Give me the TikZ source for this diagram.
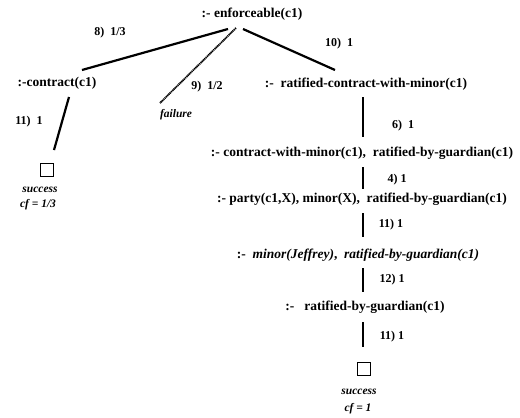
\documentclass[tikz,border=0pt]{standalone}
\usepackage{fontspec}
\setmainfont{Liberation Serif}
\begin{document}
\begin{tikzpicture}[x=1pt,y=-1pt,
	goal/.style={font=\bfseries\fontsize{13.5}{15}\selectfont},
	lbl/.style={font=\bfseries\fontsize{12}{14}\selectfont},
	res/.style={font=\bfseries\itshape\fontsize{11.5}{13}\selectfont},
	edge/.style={line width=2.2pt},
	fail/.style={line width=1.8pt,dash pattern=on 1.2pt off 0.6pt},
	box/.style={draw,line width=1.6pt,minimum size=13pt,inner sep=0pt}]
	\useasboundingbox (0,0) rectangle (520,418);
	\node[goal] (root) at (252,14) {:-\ enforceable(c1)};
	\node[goal] (contract) at (57,83) {:-contract(c1)};
	\node[goal] (ratmin) at (366,84) {:-\ \ ratified-contract-with-minor(c1)};
	\node[res] (failure) at (176,115) {failure};
	\node[goal] (cwm) at (362,153) {:-\ contract-with-minor(c1),\ \ ratified-by-guardian(c1)};
	\node[goal] (party) at (362,199) {:-\ party(c1,X),\ minor(X),\ \ ratified-by-guardian(c1)};
	\node[goal] (jeff) at (358,255) {:-\ \ \textit{minor(Jeffrey)},\ \ \textit{ratified-by-guardian(c1)}};
	\node[goal] (rbg) at (365,307) {:-\ \ \ ratified-by-guardian(c1)};
	\node[box] (okleft) at (47,170) {};
	\node[res] (sleft) at (40,190) {success};
	\node[res] (cfleft) at (38,205) {cf = 1/3};
	\node[box] (okright) at (364,369) {};
	\node[res] (sright) at (359,392) {success};
	\node[res] (cfright) at (358,409) {cf = 1};
	\node[lbl] (l8) at (110,33) {8)\ \ 1/3};
	\node[lbl] (l9) at (207,87) {9)\ \ 1/2};
	\node[lbl] (l10) at (339,44) {10)\ \ 1};
	\node[lbl] (l11a) at (29,122) {11)\ \ 1};
	\node[lbl] (l6) at (403,126) {6)\ \ 1};
	\node[lbl] (l4) at (397,180) {4) 1};
	\node[lbl] (l11b) at (391,225) {11) 1};
	\node[lbl] (l12) at (392,280) {12) 1};
	\node[lbl] (l11c) at (392,337) {11) 1};
	\coordinate (r1) at (228,29);
	\coordinate (r2) at (236,28);
	\coordinate (r3) at (243,29);
	\coordinate (c1) at (82,70);
	\coordinate (f1) at (160,103);
	\coordinate (m1) at (335,70);
	\coordinate (c2) at (69,97);
	\coordinate (c3) at (54,150);
	\draw[edge] (r1) -- (c1);
	\draw[fail] (r2) -- (f1);
	\draw[edge] (r3) -- (m1);
	\draw[edge] (c2) -- (c3);
	\draw[edge] (363,97) -- (363,137);
	\draw[edge] (363,167) -- (363,189);
	\draw[edge] (363,213) -- (363,237);
	\draw[edge] (363,268) -- (363,292);
	\draw[edge] (363,322) -- (363,347);
\end{tikzpicture}
\end{document}
